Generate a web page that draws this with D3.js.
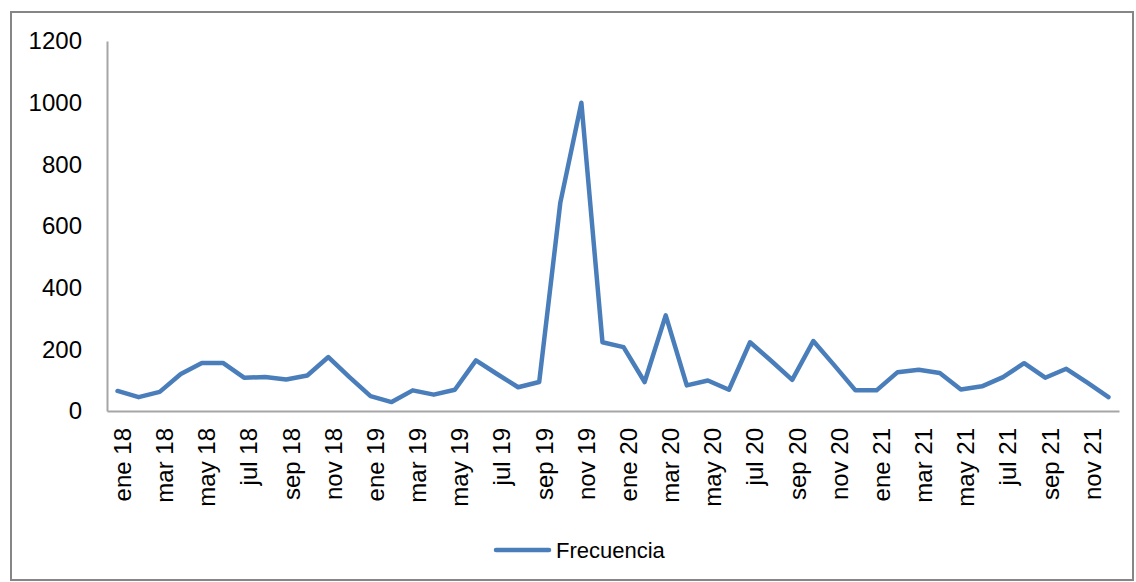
<!DOCTYPE html>
<html>
<head>
<meta charset="utf-8">
<script src="https://cdn.jsdelivr.net/npm/d3@7"></script>
<style>
  html, body { margin: 0; padding: 0; background: #fff; }
  svg { display: block; }
  text { font-family: "Liberation Sans", Arial, sans-serif; fill: #000; }
</style>
</head>
<body>
<svg id="chart" width="1136" height="582"></svg>
<script>
const monthNames = ["ene","feb","mar","abr","may","jun","jul","ago","sep","oct","nov","dic"];
const years = ["18","19","20","21"];
const categories = [];
years.forEach(yy => monthNames.forEach(m => categories.push(m + " " + yy)));

const frecuencia = [
  65, 45, 62, 120, 156, 156, 108, 110, 102, 115, 175, 110,
  48, 29, 67, 53, 69, 164, 120, 77, 94, 675, 1000, 223,
  207, 94, 310, 83, 99, 69, 223, 163, 101, 227, 148, 67,
  67, 126, 134, 123, 70, 80, 110, 155, 108, 137, 92, 45
];
const yTicks = [0, 200, 400, 600, 800, 1000, 1200];
const seriesName = "Frecuencia";

const svg = d3.select("#chart");
const mLeft = 107, mRight = 1119, mTop = 41, mBottom = 411;

// outer frame
svg.append("rect")
  .attr("x", 11).attr("y", 12).attr("width", 1122).attr("height", 568)
  .attr("fill", "none").attr("stroke", "#868686").attr("stroke-width", 2);

const x = d3.scaleBand().domain(categories).range([mLeft, mRight]).padding(0);
const y = d3.scaleLinear().domain([0, 1200]).range([mBottom, mTop]);

// y axis
const yAxis = d3.axisLeft(y).tickValues(yTicks).tickSize(0).tickPadding(25).tickFormat(d3.format("d"));
const gy = svg.append("g").attr("transform", `translate(${mLeft},0)`).call(yAxis);
gy.select(".domain").attr("stroke", "#a6a6a6").attr("stroke-width", 2);
gy.selectAll("text").style("font-size", "24px").style("font-family", "Liberation Sans, Arial, sans-serif").attr("fill", "#111");

// x axis
const labelCats = categories.filter((c, i) => i % 2 === 0);
const xAxis = d3.axisBottom(x).tickValues(labelCats).tickSize(0).tickSizeOuter(0);
const gx = svg.append("g").attr("transform", `translate(0,${mBottom})`).call(xAxis);
gx.select(".domain").attr("stroke", "#a6a6a6").attr("stroke-width", 2);
gx.selectAll("text")
  .style("font-size", "24px").style("font-family", "Liberation Sans, Arial, sans-serif").attr("fill", "#111")
  .attr("text-anchor", "end")
  .attr("dy", "0.35em")
  .attr("transform", "translate(5,17) rotate(-90)")
  .attr("x", 0).attr("y", 0);

// line
const line = d3.line()
  .x((d, i) => x(categories[i]) + x.bandwidth() / 2)
  .y(d => y(d));
svg.append("path")
  .datum(frecuencia)
  .attr("fill", "none")
  .attr("stroke", "#4a7ebb")
  .attr("stroke-width", 4.5)
  .attr("stroke-linejoin", "round")
  .attr("stroke-linecap", "round")
  .attr("d", line);

// legend
const lg = svg.append("g").attr("transform", "translate(496,550)");
lg.append("line").attr("x1", 0).attr("x2", 53).attr("y1", 0).attr("y2", 0)
  .attr("stroke", "#4a7ebb").attr("stroke-width", 4.5).attr("stroke-linecap", "round");
lg.append("text").attr("x", 60).attr("y", 0).attr("dy", "0.35em")
  .style("font-size", "22px").attr("fill", "#111").text(seriesName);
</script>
</body>
</html>
